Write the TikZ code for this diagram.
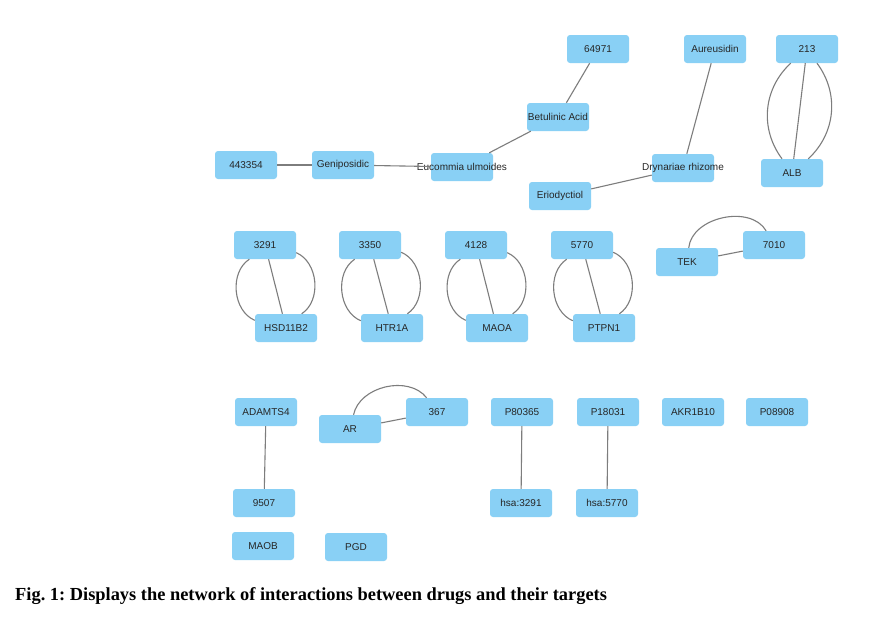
\documentclass[tikz,border=0pt]{standalone}
\usepackage{fontspec}
\setmainfont{Liberation Serif}
\setsansfont{Liberation Sans}
\usepackage{xcolor}
\usepackage{tikz}
\usetikzlibrary{arrows.meta}
\frenchspacing

\definecolor{nodeblue}{RGB}{137,208,245}
\definecolor{edgegray}{RGB}{125,125,125}

\begin{document}
\begin{tikzpicture}[
        x=1pt, y=-1pt,
        netnode/.style={rectangle, fill=nodeblue, rounded corners=3pt, minimum width=62pt, minimum height=28pt, inner sep=0pt, font=\sffamily\fontsize{10}{12}\selectfont, text=black!85},
        edge/.style={draw=edgegray, line width=1.1pt},
        caption/.style={anchor=base west, font=\bfseries\fontsize{18.4}{21}\selectfont, inner sep=0pt}
    ]

        % Canvas
        \useasboundingbox[fill=white] (0,0) rectangle (878,616);

        % Top cluster
        \node[netnode] (n443354) at (246,165) {443354};
        \node[netnode] (genip) at (343,165) {Geniposidic};
        \node[netnode] (eucom) at (462,167) {\makebox[0pt]{Eucommia ulmoides}};
        \node[netnode] (betul) at (558,117) {\makebox[0pt]{Betulinic Acid}};
        \node[netnode] (n64971) at (598,49) {64971};
        \node[netnode] (aureu) at (715,49) {Aureusidin};
        \node[netnode] (dryna) at (683,168) {\makebox[0pt]{Drynariae rhizome}};
        \node[netnode] (eriod) at (560,196) {Eriodyctiol};
        \node[netnode] (n213) at (807,49) {213};
        \node[netnode] (alb) at (792,173) {ALB};

        % Middle row
        \node[netnode] (n3291) at (265,245) {3291};
        \node[netnode] (hsd) at (286,328) {HSD11B2};
        \node[netnode] (n3350) at (370,245) {3350};
        \node[netnode] (htr) at (392,328) {HTR1A};
        \node[netnode] (n4128) at (476,245) {4128};
        \node[netnode] (maoa) at (497,328) {MAOA};
        \node[netnode] (n5770) at (582,245) {5770};
        \node[netnode] (ptpn) at (604,328) {PTPN1};
        \node[netnode] (tek) at (687,262) {TEK};
        \node[netnode] (n7010) at (774,245) {7010};

        % Bottom rows
        \node[netnode] (adamts) at (266,412) {ADAMTS4};
        \node[netnode] (n9507) at (264,503) {9507};
        \node[netnode] (ar) at (350,429) {AR};
        \node[netnode] (n367) at (437,412) {367};
        \node[netnode] (p80365) at (522,412) {P80365};
        \node[netnode] (hsa3291) at (521,503) {hsa:3291};
        \node[netnode] (p18031) at (608,412) {P18031};
        \node[netnode] (hsa5770) at (607,503) {hsa:5770};
        \node[netnode] (akr) at (693,412) {AKR1B10};
        \node[netnode] (p08908) at (777,412) {P08908};
        \node[netnode] (maob) at (263,546) {MAOB};
        \node[netnode] (pgd) at (356,547) {PGD};

        % Caption
        \node[caption] (figcap) at (15,600) {Fig. 1: Displays the network of interactions between drugs and their targets};

        % Single edges
        \draw[edge] (n443354) -- (genip);
        \draw[edge] (genip) -- (eucom);
        \draw[edge] (eucom) -- (betul);
        \draw[edge] (betul) -- (n64971);
        \draw[edge] (aureu) -- (dryna);
        \draw[edge] (dryna) -- (eriod);
        \draw[edge] (adamts) -- (n9507);
        \draw[edge] (p80365) -- (hsa3291);
        \draw[edge] (p18031) -- (hsa5770);

        % Triple edges
        \foreach \src/\dst/\bend in {n213/alb/42, n3291/hsd/62, n3350/htr/62, n4128/maoa/62, n5770/ptpn/62} {
            \draw[edge] (\src) -- (\dst);
            \draw[edge] (\src) to[bend right=\bend] (\dst);
            \draw[edge] (\src) to[bend left=\bend] (\dst);
        }

        % Double edges
        \draw[edge] (tek) -- (n7010);
        \draw[edge] (tek) to[bend left=72] (n7010);
        \draw[edge] (ar) -- (n367);
        \draw[edge] (ar) to[bend left=65] (n367);

    \end{tikzpicture}
\end{document}
